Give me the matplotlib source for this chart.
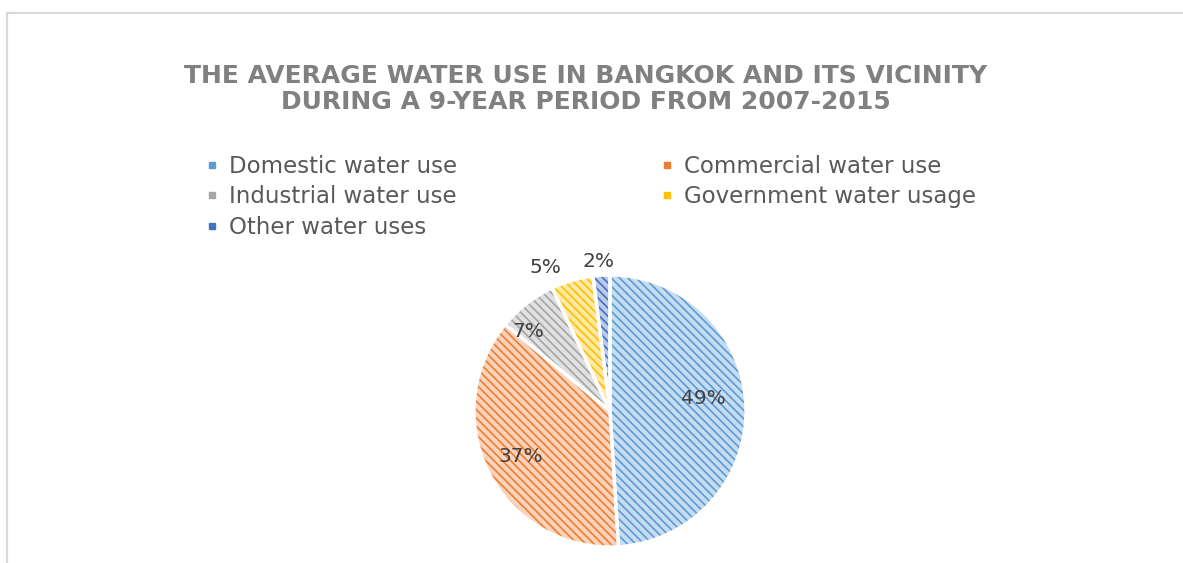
import matplotlib
matplotlib.use("Agg")
import matplotlib.pyplot as plt
from matplotlib.lines import Line2D
import numpy as np

# data
categories = ["Domestic water use", "Commercial water use", "Industrial water use",
              "Government water usage", "Other water uses"]
shares = [49, 37, 7, 5, 2]
pct_labels = ["49%", "37%", "7%", "5%", "2%"]

face_colors = ["#c6dcf1", "#f9d3bb", "#e0e0e0", "#ffe9a6", "#bccbea"]
line_colors = ["#5b9bd5", "#ed7d31", "#a5a5a5", "#ffc000", "#4472c4"]
# where the percentage labels sit: fraction of radius, angle nudge (deg)
label_radius = [0.69, 0.74, 0.84, 1.16, 1.10]
label_turn = [6, 0, 8, 8, 1]

title = ("THE AVERAGE WATER USE IN BANGKOK AND ITS VICINITY\n"
         "DURING A 9-YEAR PERIOD FROM 2007-2015")

W, H = 1183, 563
fig = plt.figure(figsize=(W / 100, H / 100), dpi=100)

# chart frame (top and left edge visible)
fig.add_artist(Line2D([7 / W, 7 / W, 1], [0, 1 - 13 / H, 1 - 13 / H],
                      color="#d9d9d9", lw=1.6, transform=fig.transFigure))

# pie axes: centre (610, 411) px, radius 136 px
cx, cy, r = 610, 411, 136
ax = fig.add_axes([(cx - r) / W, (H - cy - r) / H, 2 * r / W, 2 * r / H])

plt.rcParams["hatch.linewidth"] = 1.2
wedges, _ = ax.pie(shares, startangle=90, counterclock=False, radius=1.0)
for w, fc, lc in zip(wedges, face_colors, line_colors):
    w.set_facecolor(fc)
    w.set_edgecolor(lc)
    w.set_linewidth(0)
    w.set_hatch("\\\\\\\\")

# white separators on top
ax.pie(shares, startangle=90, counterclock=False, radius=1.0,
       wedgeprops=dict(fill=False, edgecolor="white", linewidth=2.4))

ax.set_xlim(-1, 1)
ax.set_ylim(-1, 1)
ax.set_aspect("equal")
ax.axis("off")

for w, lab, rr, turn in zip(wedges, pct_labels, label_radius, label_turn):
    ang = np.deg2rad((w.theta1 + w.theta2) / 2 + turn)
    ax.text(rr * np.cos(ang), rr * np.sin(ang), lab, ha="center", va="center",
            fontsize=14.5, color="#404040", clip_on=False)

# title
fig.text(586 / W, 1 - 89 / H, title, ha="center", va="center", fontsize=18,
         fontweight="bold", color="#808080", linespacing=1.1)

# legend, filled row by row like the original
handles = [Line2D([], [], marker="s", linestyle="none", markersize=5,
                  markerfacecolor=c, markeredgecolor=c) for c in line_colors]
order = [0, 2, 4, 1, 3]
fig.legend([handles[i] for i in order], [categories[i] for i in order],
           ncol=2, loc="upper left", bbox_to_anchor=(206 / W, 1 - 155 / H),
           frameon=False, fontsize=16.5, labelcolor="#595959",
           handlelength=0.5, handletextpad=0.5, columnspacing=8.9,
           labelspacing=0.32, borderpad=0, borderaxespad=0)

fig.savefig("out.png", dpi=100)
